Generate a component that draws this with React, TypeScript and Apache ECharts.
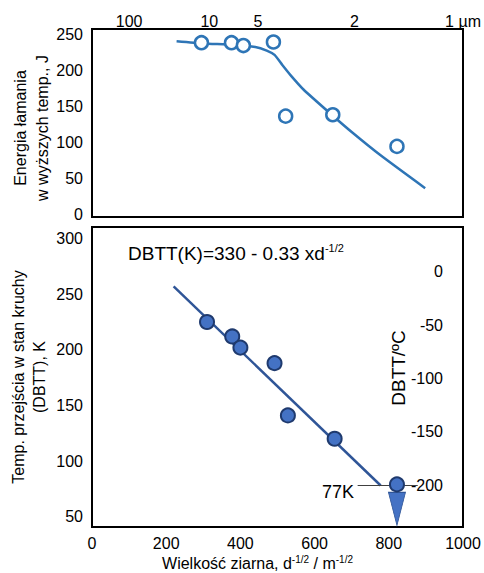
import React, { useEffect, useRef } from "react";
import * as echarts from "echarts";

// ---- data ----
// top panel: grain size labels on top axis (µm) and positions via d^-1/2 (m^-1/2)
const topAxisSizesUm = [100, 10, 5, 2, 1];
const topAxisLabels = ["100", "10", "5", "2", "1 µm"];
const energyTicks = [0, 50, 100, 150, 200, 250];
const energyPoints: [number, number][] = [
  [295, 239],
  [376, 239],
  [408, 235],
  [489, 240],
  [522, 137],
  [649, 139],
  [822, 95],
];
const energyCurve: [number, number][] = [
  [228, 241],
  [300, 238],
  [380, 236],
  [440, 233],
  [471, 228],
  [492, 222],
  [513, 208],
  [535, 194],
  [570, 174],
  [646, 139],
  [700, 115],
  [777, 83],
  [898, 37],
];

// bottom panel
const dbttTicksK = [50, 100, 150, 200, 250, 300];
const dbttTicksC = [0, -50, -100, -150, -200];
const dbttPoints: [number, number][] = [
  [310, 225],
  [378, 212],
  [400, 202],
  [492, 188],
  [528, 141],
  [654, 120],
  [822, 79],
];
const fitLine: [number, number][] = [
  [220, 257],
  [778, 78],
];
const line77K: [number, number][] = [
  [716, 78],
  [878, 78],
];
const arrowPoint: [number, number][] = [[822, 57]];

const FONT = "Liberation Sans, Arial, sans-serif";

export default function App() {
  const ref = useRef<HTMLDivElement>(null);
  useEffect(() => {
    document.body.style.margin = "0";
    const chart = echarts.init(ref.current!, null, { renderer: "svg" });
    const topPositions = topAxisSizesUm.map((d) => 1000 / Math.sqrt(d));
    const labelStyle = { color: "#000", fontSize: 16, fontFamily: FONT };
    chart.setOption({
      animation: false,
      textStyle: { fontFamily: FONT },
      grid: [
        { left: 92, top: 29, width: 371, height: 188, show: true, borderColor: "#000", borderWidth: 2, backgroundColor: "transparent", outerBoundsMode: "none", containLabel: false },
        { left: 92, top: 227, width: 371, height: 300, show: true, borderColor: "#000", borderWidth: 2, backgroundColor: "transparent", outerBoundsMode: "none", containLabel: false },
      ],
      xAxis: [
        {
          gridIndex: 0,
          type: "value",
          position: "top",
          min: 0,
          max: 1000,
          axisLine: { show: false },
          axisTick: { show: false },
          splitLine: { show: false },
          axisLabel: {
            ...labelStyle,
            margin: 0,
            hideOverlap: false,
            customValues: topPositions,
            formatter: (v: number) => {
              let best = 0;
              topPositions.forEach((p, i) => {
                if (Math.abs(p - v) < Math.abs(topPositions[best] - v)) best = i;
              });
              return topAxisLabels[best];
            },
          },
        },
        {
          gridIndex: 1,
          type: "value",
          min: 0,
          max: 1000,
          interval: 200,
          axisLine: { show: false },
          axisTick: { show: false },
          splitLine: { show: false },
          axisLabel: { ...labelStyle, margin: 8, formatter: (v: number) => String(v) },
          name: "Wielkość ziarna, d{s|-1/2} / m{s|-1/2}",
          nameLocation: "middle",
          nameGap: 27,
          nameMoveOverlap: false,
          nameTextStyle: {
            color: "#000",
            fontSize: 16,
            fontFamily: FONT,
            padding: [0, 40, 0, 0],
            lineHeight: 18,
            rich: {
              s: { fontSize: 10, fontFamily: FONT, color: "#000", verticalAlign: "top", lineHeight: 18 },
            },
          },
        },
      ],
      yAxis: [
        {
          gridIndex: 0,
          type: "value",
          min: -3,
          max: 258,
          axisLine: { show: false },
          axisTick: { show: false },
          splitLine: { show: false },
          axisLabel: { ...labelStyle, margin: 9, customValues: energyTicks },
          name: "Energia łamania\nw wyższych temp., J",
          nameLocation: "middle",
          nameRotate: 90,
          nameGap: 39,
          nameMoveOverlap: false,
          nameTextStyle: { color: "#000", fontSize: 16, fontFamily: FONT, lineHeight: 22, padding: [0, 10, 0, 0] },
        },
        {
          gridIndex: 1,
          type: "value",
          min: 40.7,
          max: 310.4,
          axisLine: { show: false },
          axisTick: { show: false },
          splitLine: { show: false },
          axisLabel: { ...labelStyle, margin: 9, customValues: dbttTicksK },
          name: "Temp. przejścia w stan kruchy\n(DBTT), K",
          nameLocation: "middle",
          nameRotate: 90,
          nameGap: 42,
          nameMoveOverlap: false,
          nameTextStyle: { color: "#000", fontSize: 16, fontFamily: FONT, lineHeight: 21 },
        },
        {
          gridIndex: 1,
          type: "value",
          position: "right",
          min: -239.4,
          max: 42.2,
          axisLine: { show: false },
          axisTick: { show: false },
          splitLine: { show: false },
          axisLabel: { ...labelStyle, inside: true, margin: 20, customValues: dbttTicksC },
        },
      ],
      graphic: [
        {
          type: "text",
          left: 128,
          top: 242,
          style: {
            text: "{a|DBTT(K)=330 - 0.33 xd}{s|-1/2}",
            rich: {
              a: { fontSize: 19, fontFamily: FONT, fill: "#000", lineHeight: 22 },
              s: { fontSize: 11, fontFamily: FONT, fill: "#000", verticalAlign: "top", lineHeight: 22 },
            },
          },
        },
        {
          type: "text",
          x: 398,
          y: 368,
          rotation: Math.PI / 2,
          style: { text: "DBTT/ºC", fontSize: 19, fontFamily: FONT, fill: "#000", align: "center", verticalAlign: "middle" },
        },
        {
          type: "text",
          left: 322,
          top: 483,
          style: { text: "77K", fontSize: 18, fontFamily: FONT, fill: "#000" },
        },
      ],
      series: [
        {
          type: "line",
          xAxisIndex: 0,
          yAxisIndex: 0,
          data: energyCurve,
          smooth: 0.2,
          showSymbol: false,
          symbol: "none",
          lineStyle: { color: "#2E75B6", width: 2.5 },
          z: 2,
        },
        {
          type: "scatter",
          xAxisIndex: 0,
          yAxisIndex: 0,
          data: energyPoints,
          symbol: "circle",
          symbolSize: 13,
          itemStyle: { color: "#fff", borderColor: "#2E75B6", borderWidth: 2.5, opacity: 1 },
          z: 3,
        },
        {
          type: "line",
          xAxisIndex: 1,
          yAxisIndex: 1,
          data: fitLine,
          symbol: "none",
          lineStyle: { color: "#2F5597", width: 2.5 },
          z: 2,
        },
        {
          type: "line",
          xAxisIndex: 1,
          yAxisIndex: 1,
          data: line77K,
          symbol: "none",
          lineStyle: { color: "#404040", width: 1 },
          z: 2,
        },
        {
          type: "scatter",
          xAxisIndex: 1,
          yAxisIndex: 1,
          data: arrowPoint,
          symbol: "triangle",
          symbolRotate: 180,
          symbolSize: [17, 33],
          itemStyle: { color: "#4472C4", borderColor: "#2F5597", borderWidth: 1, opacity: 1 },
          z: 3,
        },
        {
          type: "scatter",
          xAxisIndex: 1,
          yAxisIndex: 1,
          data: dbttPoints,
          symbol: "circle",
          symbolSize: 14,
          itemStyle: { color: "#4472C4", borderColor: "#1F3A6E", borderWidth: 2, opacity: 1 },
          z: 4,
        },
      ],
    });
    return () => chart.dispose();
  }, []);
  return <div ref={ref} style={{ width: 484, height: 573 }} />;
}
